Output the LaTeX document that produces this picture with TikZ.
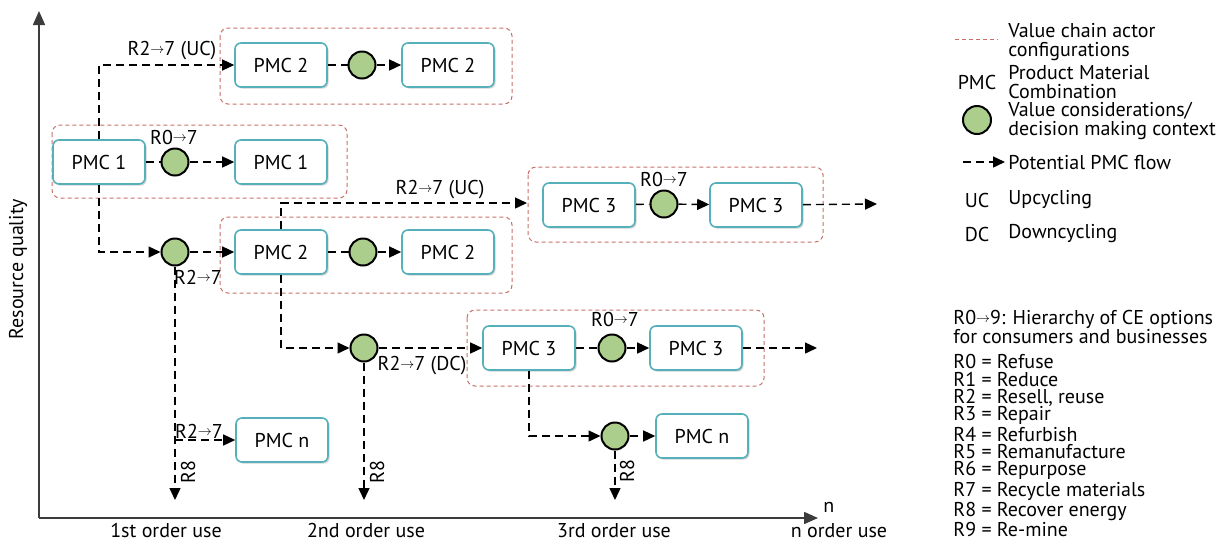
\documentclass[tikz,border=0pt]{standalone}
\usepackage{fontspec}
\setmainfont{PT Sans}
\usepackage{graphicx}
\usepackage{pgf, tikz}
\usetikzlibrary{arrows.meta,shadows}
\definecolor{pmcteal}{RGB}{86,176,186}
\definecolor{valgreen}{RGB}{172,206,140}
\definecolor{vcred}{RGB}{200,112,104}
\definecolor{axisgray}{RGB}{60,60,60}
\newcommand{\rto}{\raisebox{0.25ex}{\scalebox{0.7}{$\rightarrow$}}}

\begin{document}
\begin{tikzpicture}[x=0.5pt,y=-0.5pt,inner sep=1pt,
  font=\fontsize{10}{9.15}\selectfont,
  pmc/.style={draw=pmcteal,line width=0.8pt,fill=white,rounded corners=3pt,
    minimum width=46pt,minimum height=22pt,
    drop shadow={shadow xshift=0.8pt,shadow yshift=-0.8pt,opacity=0.35,fill=gray}},
  val/.style={circle,draw=black,line width=1pt,fill=valgreen,minimum size=13.5pt,inner sep=0pt},
  flow/.style={dash pattern=on 4pt off 2.5pt,line width=0.7pt,-{Triangle[length=6pt,width=5.5pt]}},
  link/.style={dash pattern=on 4pt off 2.5pt,line width=0.7pt},
  vc/.style={draw=vcred,dash pattern=on 2pt off 1.5pt,line width=0.5pt,rounded corners=4pt},
  axisline/.style={draw=axisgray,line width=0.8pt,-{Triangle[length=7pt,width=6pt]}},
  uselbl/.style={inner sep=0pt,anchor=base}]
\useasboundingbox (0,0) rectangle (1228,543);

\coordinate (o) at (39,518);
\coordinate (ytip) at (39,11);
\coordinate (xtip) at (818,518);
\draw[axisline] (o) -- (ytip);
\draw[axisline] (o) -- (xtip);
\node[anchor=west] (nlab) at (821,507) {n};
\node[rotate=90] (yl) at (18,269) {Resource quality};
\node[uselbl] (u1) at (166,537) {1st order use};
\node[uselbl] (u2) at (366,537) {2nd order use};
\node[uselbl] (u3) at (614,537) {3rd order use};
\node[uselbl] (un) at (839,537) {n order use};

\draw[vc] (52,125) rectangle (347,198);
\draw[vc] (220,28) rectangle (512,104);
\draw[vc] (220,217) rectangle (512,293);
\draw[vc] (528,167) rectangle (823,242);
\draw[vc] (467,310) rectangle (764,386);

\node[pmc] (p1a) at (99,162) {PMC 1};
\node[pmc] (p1b) at (281,162) {PMC 1};
\node[pmc] (p2a) at (281,65) {PMC 2};
\node[pmc] (p2b) at (448,65) {PMC 2};
\node[pmc] (p2c) at (281,252) {PMC 2};
\node[pmc] (p2d) at (448,252) {PMC 2};
\node[pmc] (p3a) at (589,205) {PMC 3};
\node[pmc] (p3b) at (756,205) {PMC 3};
\node[pmc] (p3c) at (529,348) {PMC 3};
\node[pmc] (p3d) at (696,348) {PMC 3};
\node[pmc] (pna) at (282,440) {PMC n};
\node[pmc] (pnb) at (702,436) {PMC n};

\node[val] (c1) at (175,162) {};
\node[val] (c2) at (362,65) {};
\node[val] (c3) at (175,252) {};
\node[val] (c4) at (363,252) {};
\node[val] (c5) at (664,204) {};
\node[val] (c6) at (364,348) {};
\node[val] (c7) at (612,348) {};
\node[val] (c8) at (615,436) {};

\coordinate (e1) at (175,500);
\coordinate (e2) at (527,203);
\coordinate (e3) at (877,204);
\coordinate (e4) at (364,500);
\coordinate (e5) at (817,348);
\coordinate (e6) at (615,500);

\draw[flow] (p1a.north) |- (p2a.west);
\draw[link] (p1a) -- (c1);
\draw[flow] (c1) -- (p1b);
\draw[link] (p2a) -- (c2);
\draw[flow] (c2) -- (p2b);
\draw[flow] (p1a.south) |- (c3);
\draw[flow] (c3) -- (p2c);
\draw[flow] (c3) -- (e1);
\draw[flow] (c3 |- pna) -- (pna);
\draw[flow] (p2c.north) |- (e2);
\draw[link] (p2c) -- (c4);
\draw[flow] (c4) -- (p2d);
\draw[link] (p3a) -- (c5);
\draw[flow] (c5) -- (p3b);
\draw[flow] (p3b) -- (e3);
\draw[flow] (p2c.south) |- (c6);
\draw[flow] (c6) -- (p3c);
\draw[flow] (c6) -- (e4);
\draw[link] (p3c) -- (c7);
\draw[flow] (c7) -- (p3d);
\draw[flow] (p3d) -- (e5);
\draw[flow] (p3c.south) |- (c8);
\draw[flow] (c8) -- (pnb);
\draw[flow] (c8) -- (e6);

\node (l1) at (172,51) {R2\rto7 (UC)};
\node (l2) at (174,137) {R0\rto7};
\node (l3) at (198,277) {R2\rto7};
\node (l4) at (199,431) {R2\rto7};
\node (l5) at (440,190) {R2\rto7 (UC)};
\node (l6) at (664,179) {R0\rto7};
\node (l7) at (422,366) {R2\rto7 (DC)};
\node (l8) at (615,319) {R0\rto7};
\node[rotate=90] (r8a) at (188,472) {R8};
\node[rotate=90] (r8b) at (377,472) {R8};
\node[rotate=90] (r8c) at (627,471) {R8};

\coordinate (lg1a) at (955,39);
\coordinate (lg1b) at (998,39);
\draw[vc] (lg1a) -- (lg1b);
\node[anchor=west,align=left] (lgt1) at (1006,42) {Value chain actor\\configurations};
\node (lgpmc) at (977,82) {PMC};
\node[anchor=west,align=left] (lgt2) at (1006,82) {Product Material\\Combination};
\node[val,minimum size=14pt] (lgc) at (977,120) {};
\node[anchor=west,align=left] (lgt3) at (1006,121) {Value considerations/\\decision making context};
\coordinate (lg4a) at (963,162);
\coordinate (lg4b) at (1005,162);
\draw[flow] (lg4a) -- (lg4b);
\node[anchor=west] (lgt4) at (1006,162) {Potential PMC flow};
\node (lguc) at (977,200) {UC};
\node[anchor=west] (lgt5) at (1006,200) {Upcycling};
\node (lgdc) at (977,234) {DC};
\node[anchor=west] (lgt6) at (1006,234) {Downcycling};
\node[anchor=west,align=left] (lgr) at (951,327) {R0\rto9: Hierarchy of CE options\\for consumers and businesses};
\node[anchor=north west,align=left,font=\fontsize{10}{8.7}\selectfont] (lglist) at (951,352) {R0 = Refuse\\R1 = Reduce\\R2 = Resell, reuse\\R3 = Repair\\R4 = Refurbish\\R5 = Remanufacture\\R6 = Repurpose\\R7 = Recycle materials\\R8 = Recover energy\\R9 = Re-mine};
\end{tikzpicture}
\end{document}
